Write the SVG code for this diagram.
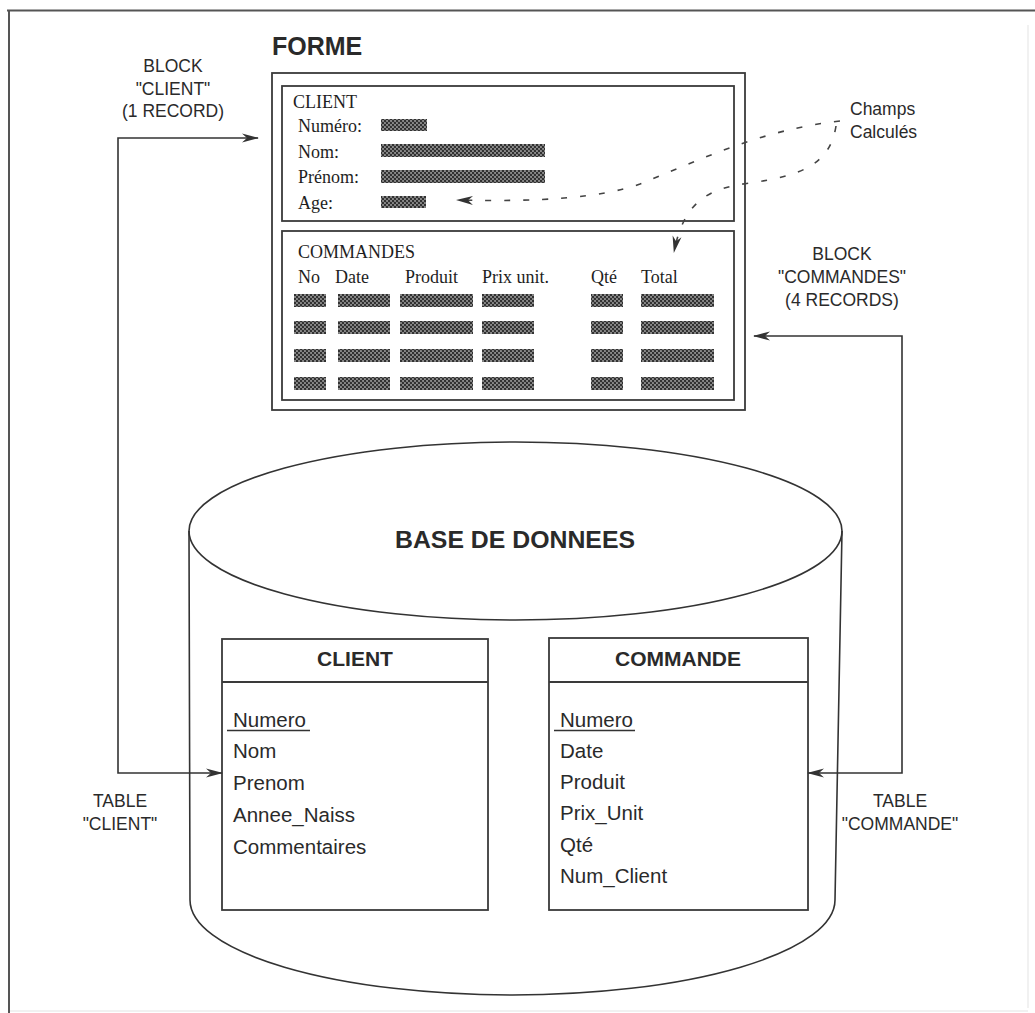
<svg xmlns="http://www.w3.org/2000/svg" width="1035" height="1013" viewBox="0 0 1035 1013">
<style>
.ln{fill:none;stroke:#333;stroke-width:1.6}
.bx{fill:none;stroke:#3a3a3a;stroke-width:1.8}
.sf{font-family:"Liberation Serif","Times New Roman",serif;font-size:18px;fill:#1e1e1e}
.ss{font-family:"Liberation Sans",Arial,sans-serif;fill:#2a2a2a}
.lbl{font-size:17.5px;text-anchor:middle}
.fld{font-size:20.5px}
.hdr{font-size:21px;font-weight:bold;text-anchor:middle}
.h{fill:url(#hatch)}
.dash{fill:none;stroke:#444;stroke-width:1.6;stroke-dasharray:6 13}
</style>
<defs>
<pattern id="hatch" width="4" height="4" patternUnits="userSpaceOnUse">
<rect width="4" height="4" fill="#8a8a8a"/>
<circle cx="1" cy="1" r="1.2" fill="#2e2e2e"/>
<circle cx="3" cy="3" r="1.2" fill="#2e2e2e"/>
</pattern>
<marker id="arr" viewBox="0 0 17 10" refX="16" refY="5" markerWidth="17" markerHeight="10" markerUnits="userSpaceOnUse" orient="auto-start-reverse">
<path d="M0,0.5 L17,5 L0,9.5 L5,5 Z" fill="#333" stroke="none"/>
</marker>
</defs>
<rect width="1035" height="1013" fill="#fff"/>
<g id="frame">
<line x1="7" y1="10.5" x2="1035" y2="10.5" stroke="#555" stroke-width="2"/>
<line x1="9" y1="10" x2="9" y2="1013" stroke="#555" stroke-width="2"/>
<line x1="1028" y1="25" x2="1028" y2="1008" stroke="#ececec" stroke-width="1.5"/>
<line x1="10" y1="1011" x2="1028" y2="1011" stroke="#ececec" stroke-width="1.5"/>
</g>
<g id="forme">
<text class="ss" x="272" y="55" font-size="25" font-weight="bold">FORME</text>
<rect class="bx" x="272" y="73" width="473" height="337"/>
<g id="block-client">
<rect class="bx" x="282" y="86" width="452" height="135"/>
<text class="sf" x="293" y="108">CLIENT</text>
<text class="sf" x="298" y="132">Numéro:</text>
<text class="sf" x="298" y="158">Nom:</text>
<text class="sf" x="298" y="183">Prénom:</text>
<text class="sf" x="298" y="209">Age:</text>
<rect class="h" x="381" y="119" width="46" height="12"/>
<rect class="h" x="381" y="144" width="164" height="13"/>
<rect class="h" x="381" y="170" width="164" height="13"/>
<rect class="h" x="381" y="196" width="45" height="12"/>
</g>
<g id="block-commandes">
<rect class="bx" x="282" y="231" width="452" height="169"/>
<text class="sf" x="298" y="258">COMMANDES</text>
<text class="sf" x="298" y="283">No</text>
<text class="sf" x="335" y="283">Date</text>
<text class="sf" x="405" y="283">Produit</text>
<text class="sf" x="482" y="283">Prix unit.</text>
<text class="sf" x="591" y="283">Qté</text>
<text class="sf" x="641" y="283">Total</text>
<g id="rows">
<rect class="h" x="294" y="294" width="32" height="13"/><rect class="h" x="338" y="294" width="52" height="13"/><rect class="h" x="400" y="294" width="73" height="13"/><rect class="h" x="482" y="294" width="52" height="13"/><rect class="h" x="591" y="294" width="32" height="13"/><rect class="h" x="641" y="294" width="73" height="13"/>
<rect class="h" x="294" y="321" width="32" height="13"/><rect class="h" x="338" y="321" width="52" height="13"/><rect class="h" x="400" y="321" width="73" height="13"/><rect class="h" x="482" y="321" width="52" height="13"/><rect class="h" x="591" y="321" width="32" height="13"/><rect class="h" x="641" y="321" width="73" height="13"/>
<rect class="h" x="294" y="349" width="32" height="13"/><rect class="h" x="338" y="349" width="52" height="13"/><rect class="h" x="400" y="349" width="73" height="13"/><rect class="h" x="482" y="349" width="52" height="13"/><rect class="h" x="591" y="349" width="32" height="13"/><rect class="h" x="641" y="349" width="73" height="13"/>
<rect class="h" x="294" y="377" width="32" height="13"/><rect class="h" x="338" y="377" width="52" height="13"/><rect class="h" x="400" y="377" width="73" height="13"/><rect class="h" x="482" y="377" width="52" height="13"/><rect class="h" x="591" y="377" width="32" height="13"/><rect class="h" x="641" y="377" width="73" height="13"/>
</g>
</g>
</g>
<g id="base-de-donnees">
<path class="ln" d="M189,531 A326.5,89 0 0 1 842,531 A326.5,89 0 0 1 189,531 Z"/>
<path class="ln" d="M189,531 L190,900 A322.5,95 0 0 0 835,900 L842,531"/>
<text class="ss" x="515" y="548" font-size="23" font-weight="bold" text-anchor="middle" textLength="240" lengthAdjust="spacingAndGlyphs">BASE DE DONNEES</text>
</g>
<g id="table-client">
<rect class="bx" x="222" y="639" width="266" height="271"/>
<line class="bx" x1="222" y1="682" x2="488" y2="682"/>
<text class="ss hdr" x="355" y="666">CLIENT</text>
<text class="ss fld" x="233" y="727">Numero</text>
<line x1="227" y1="730.5" x2="310" y2="730.5" stroke="#333" stroke-width="1.5"/>
<text class="ss fld" x="233" y="758">Nom</text>
<text class="ss fld" x="233" y="790">Prenom</text>
<text class="ss fld" x="233" y="822">Annee_Naiss</text>
<text class="ss fld" x="233" y="854">Commentaires</text>
</g>
<g id="table-commande">
<rect class="bx" x="549" y="638" width="259" height="272"/>
<line class="bx" x1="549" y1="682" x2="808" y2="682"/>
<text class="ss hdr" x="678" y="666">COMMANDE</text>
<text class="ss fld" x="560" y="727">Numero</text>
<line x1="554" y1="730.5" x2="635" y2="730.5" stroke="#333" stroke-width="1.5"/>
<text class="ss fld" x="560" y="758">Date</text>
<text class="ss fld" x="560" y="789">Produit</text>
<text class="ss fld" x="560" y="820">Prix_Unit</text>
<text class="ss fld" x="560" y="852">Qté</text>
<text class="ss fld" x="560" y="883">Num_Client</text>
</g>
<g id="labels">
<text class="ss lbl" x="173" y="72">BLOCK</text>
<text class="ss lbl" x="173" y="95">"CLIENT"</text>
<text class="ss lbl" x="173" y="117">(1 RECORD)</text>
<text class="ss lbl" x="842" y="260">BLOCK</text>
<text class="ss lbl" x="842" y="283">"COMMANDES"</text>
<text class="ss lbl" x="842" y="306">(4 RECORDS)</text>
<text class="ss lbl" x="120" y="807">TABLE</text>
<text class="ss lbl" x="120" y="830">"CLIENT"</text>
<text class="ss lbl" x="900" y="807">TABLE</text>
<text class="ss lbl" x="900" y="830">"COMMANDE"</text>
<text class="ss" x="850" y="115" font-size="17.5">Champs</text>
<text class="ss" x="850" y="138" font-size="17.5">Calculés</text>
</g>
<g id="connectors">
<path class="ln" d="M222,773 L118,773 L118,138 L258,138" marker-start="url(#arr)" marker-end="url(#arr)"/>
<path class="ln" d="M754,336 L902,336 L902,773 L808,773" marker-start="url(#arr)" marker-end="url(#arr)"/>
<path class="dash" d="M840,121 C760,130 700,160 640,184 C600,198 540,202 457,200" marker-end="url(#arr)"/>
<path class="dash" d="M836,126 C830,165 800,176 750,183 C710,188 684,200 674,252" marker-end="url(#arr)"/>
</g>
</svg>
